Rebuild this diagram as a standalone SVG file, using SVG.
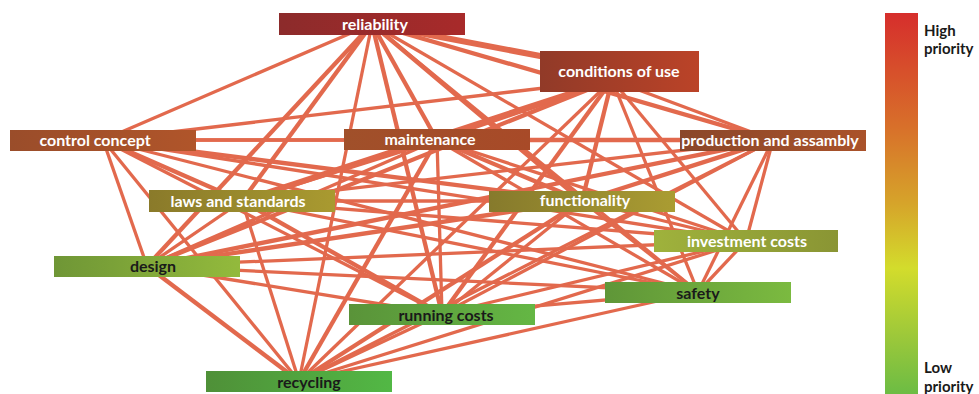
<svg xmlns="http://www.w3.org/2000/svg" width="979" height="394" viewBox="0 0 979 394">
<style>
.e{stroke:#e2694d;stroke-linecap:butt;fill:none}
.w3{stroke-width:3.3}.w4{stroke-width:4.3}.w5{stroke-width:6}
.lbl{font-family:Lato,"Open Sans",sans-serif;font-weight:bold;font-size:16px;text-anchor:middle}
.wt{fill:#ffffff}.bk{fill:#1a1a1a}
.leg{font-family:Lato,"Open Sans",sans-serif;font-weight:bold;font-size:15px;fill:#1a1a1a}
</style>
<defs>
<linearGradient id="gR" x1="0" x2="1"><stop offset="0" stop-color="#8c2b2b"/><stop offset="1" stop-color="#a82a2a"/></linearGradient>
<linearGradient id="gC" x1="0" x2="1"><stop offset="0" stop-color="#913a28"/><stop offset="1" stop-color="#bb4328"/></linearGradient>
<linearGradient id="gCC" x1="0" x2="1"><stop offset="0" stop-color="#9a4d2a"/><stop offset="1" stop-color="#b0552a"/></linearGradient>
<linearGradient id="gM" x1="0" x2="1"><stop offset="0" stop-color="#a0502a"/><stop offset="1" stop-color="#a84a28"/></linearGradient>
<linearGradient id="gP" x1="0" x2="1"><stop offset="0" stop-color="#8a472a"/><stop offset="1" stop-color="#aa522a"/></linearGradient>
<linearGradient id="gL" x1="0" x2="1"><stop offset="0" stop-color="#8a7a2a"/><stop offset="1" stop-color="#a99a30"/></linearGradient>
<linearGradient id="gF" x1="0" x2="1"><stop offset="0" stop-color="#867a2c"/><stop offset="1" stop-color="#aa9c32"/></linearGradient>
<linearGradient id="gI" x1="0" x2="1"><stop offset="0" stop-color="#9fb23c"/><stop offset="1" stop-color="#8a9534"/></linearGradient>
<linearGradient id="gD" x1="0" x2="1"><stop offset="0" stop-color="#6f9636"/><stop offset="1" stop-color="#93ba3c"/></linearGradient>
<linearGradient id="gS" x1="0" x2="1"><stop offset="0" stop-color="#5f9638"/><stop offset="1" stop-color="#7bba40"/></linearGradient>
<linearGradient id="gRC" x1="0" x2="1"><stop offset="0" stop-color="#5a9339"/><stop offset="1" stop-color="#64b744"/></linearGradient>
<linearGradient id="gRY" x1="0" x2="1"><stop offset="0" stop-color="#4f9038"/><stop offset="1" stop-color="#52b845"/></linearGradient>
<linearGradient id="gLeg" x1="0" y1="0" x2="0" y2="1">
<stop offset="0" stop-color="#d62e2c"/>
<stop offset="0.3" stop-color="#d8702a"/>
<stop offset="0.5" stop-color="#d6a42a"/>
<stop offset="0.67" stop-color="#d3dc2c"/>
<stop offset="0.85" stop-color="#9cc83a"/>
<stop offset="1" stop-color="#6cbc44"/>
</linearGradient>
</defs>
<g id="connectors">
<line class="e w5" x1="372" y1="24" x2="619" y2="71"/>
<line class="e w3" x1="372" y1="24" x2="103" y2="140"/>
<line class="e w4" x1="372" y1="24" x2="437" y2="140"/>
<line class="e w4" x1="372" y1="24" x2="773" y2="140"/>
<line class="e w4" x1="372" y1="24" x2="242" y2="201"/>
<line class="e w4" x1="372" y1="24" x2="582" y2="201"/>
<line class="e w3" x1="372" y1="24" x2="746" y2="241"/>
<line class="e w4" x1="372" y1="24" x2="147" y2="266"/>
<line class="e w3" x1="372" y1="24" x2="698" y2="292"/>
<line class="e w4" x1="372" y1="24" x2="442" y2="314"/>
<line class="e w3" x1="372" y1="24" x2="299" y2="381"/>
<line class="e w3" x1="612" y1="80" x2="103" y2="140"/>
<line class="e w4" x1="612" y1="80" x2="437" y2="140"/>
<line class="e w3" x1="612" y1="80" x2="773" y2="140"/>
<line class="e w5" x1="612" y1="80" x2="242" y2="201"/>
<line class="e w4" x1="612" y1="80" x2="582" y2="201"/>
<line class="e w3" x1="612" y1="80" x2="746" y2="241"/>
<line class="e w4" x1="612" y1="80" x2="147" y2="266"/>
<line class="e w3" x1="612" y1="80" x2="698" y2="292"/>
<line class="e w4" x1="612" y1="80" x2="442" y2="314"/>
<line class="e w3" x1="612" y1="80" x2="299" y2="381"/>
<line class="e w3" x1="103" y1="140" x2="437" y2="140"/>
<line class="e w3" x1="103" y1="140" x2="773" y2="140"/>
<line class="e w4" x1="103" y1="140" x2="242" y2="201"/>
<line class="e w4" x1="103" y1="140" x2="582" y2="201"/>
<line class="e w3" x1="103" y1="140" x2="746" y2="241"/>
<line class="e w3" x1="103" y1="140" x2="147" y2="266"/>
<line class="e w3" x1="103" y1="140" x2="698" y2="292"/>
<line class="e w3" x1="103" y1="140" x2="442" y2="314"/>
<line class="e w3" x1="103" y1="140" x2="299" y2="381"/>
<line class="e w4" x1="437" y1="140" x2="773" y2="140"/>
<line class="e w4" x1="437" y1="140" x2="242" y2="201"/>
<line class="e w4" x1="437" y1="140" x2="582" y2="201"/>
<line class="e w3" x1="437" y1="140" x2="746" y2="241"/>
<line class="e w3" x1="437" y1="140" x2="147" y2="266"/>
<line class="e w3" x1="437" y1="140" x2="698" y2="292"/>
<line class="e w3" x1="437" y1="140" x2="442" y2="314"/>
<line class="e w4" x1="437" y1="140" x2="299" y2="381"/>
<line class="e w3" x1="773" y1="140" x2="242" y2="201"/>
<line class="e w4" x1="773" y1="140" x2="582" y2="201"/>
<line class="e w3" x1="773" y1="140" x2="746" y2="241"/>
<line class="e w4" x1="773" y1="140" x2="147" y2="266"/>
<line class="e w3" x1="773" y1="140" x2="698" y2="292"/>
<line class="e w3" x1="773" y1="140" x2="442" y2="314"/>
<line class="e w3" x1="773" y1="140" x2="299" y2="381"/>
<line class="e w3" x1="242" y1="201" x2="582" y2="201"/>
<line class="e w3" x1="242" y1="201" x2="746" y2="241"/>
<line class="e w3" x1="242" y1="201" x2="147" y2="266"/>
<line class="e w3" x1="242" y1="201" x2="698" y2="292"/>
<line class="e w4" x1="242" y1="201" x2="442" y2="314"/>
<line class="e w3" x1="242" y1="201" x2="299" y2="381"/>
<line class="e w3" x1="582" y1="201" x2="746" y2="241"/>
<line class="e w4" x1="582" y1="201" x2="147" y2="266"/>
<line class="e w3" x1="582" y1="201" x2="698" y2="292"/>
<line class="e w3" x1="582" y1="201" x2="442" y2="314"/>
<line class="e w4" x1="582" y1="201" x2="299" y2="381"/>
<line class="e w3" x1="746" y1="241" x2="147" y2="266"/>
<line class="e w3" x1="746" y1="241" x2="698" y2="292"/>
<line class="e w3" x1="746" y1="241" x2="442" y2="314"/>
<line class="e w3" x1="746" y1="241" x2="299" y2="381"/>
<line class="e w3" x1="147" y1="266" x2="698" y2="292"/>
<line class="e w3" x1="147" y1="266" x2="442" y2="314"/>
<line class="e w4" x1="147" y1="266" x2="299" y2="381"/>
<line class="e w3" x1="698" y1="292" x2="442" y2="314"/>
<line class="e w3" x1="698" y1="292" x2="299" y2="381"/>
<line class="e w3" x1="442" y1="314" x2="299" y2="381"/>
</g>
<g id="reliability"><rect x="279" y="13" width="186" height="22" fill="url(#gR)"/><text class="lbl wt" x="375" y="30">reliability</text></g>
<g id="conditions-of-use"><rect x="540" y="51" width="159" height="41" fill="url(#gC)"/><text class="lbl wt" x="619" y="77">conditions of use</text></g>
<g id="control-concept"><rect x="10" y="130" width="186" height="21" fill="url(#gCC)"/><text class="lbl wt" x="95" y="146">control concept</text></g>
<g id="maintenance"><rect x="344" y="129" width="186" height="21" fill="url(#gM)"/><text class="lbl wt" x="430" y="145">maintenance</text></g>
<g id="production-and-assambly"><rect x="680" y="130" width="186" height="21" fill="url(#gP)"/><text class="lbl wt" x="770" y="146">production and assambly</text></g>
<g id="laws-and-standards"><rect x="149" y="190" width="186" height="22" fill="url(#gL)"/><text class="lbl wt" x="238" y="207">laws and standards</text></g>
<g id="functionality"><rect x="489" y="191" width="186" height="21" fill="url(#gF)"/><text class="lbl wt" x="585" y="206">functionality</text></g>
<g id="investment-costs"><rect x="654" y="230" width="184" height="22" fill="url(#gI)"/><text class="lbl wt" x="747" y="247">investment costs</text></g>
<g id="design"><rect x="54" y="256" width="186" height="21" fill="url(#gD)"/><text class="lbl bk" x="153" y="272">design</text></g>
<g id="safety"><rect x="605" y="282" width="186" height="21" fill="url(#gS)"/><text class="lbl bk" x="698" y="299">safety</text></g>
<g id="running-costs"><rect x="349" y="304" width="186" height="21" fill="url(#gRC)"/><text class="lbl bk" x="446" y="321">running costs</text></g>
<g id="recycling"><rect x="206" y="371" width="186" height="21" fill="url(#gRY)"/><text class="lbl bk" x="309" y="388">recycling</text></g>
<g id="legend">
<rect x="885" y="13" width="33" height="381" fill="url(#gLeg)"/>
<text class="leg" x="924" y="36">High</text>
<text class="leg" x="924" y="54">priority</text>
<text class="leg" x="924" y="373">Low</text>
<text class="leg" x="924" y="392">priority</text>
</g>
</svg>
